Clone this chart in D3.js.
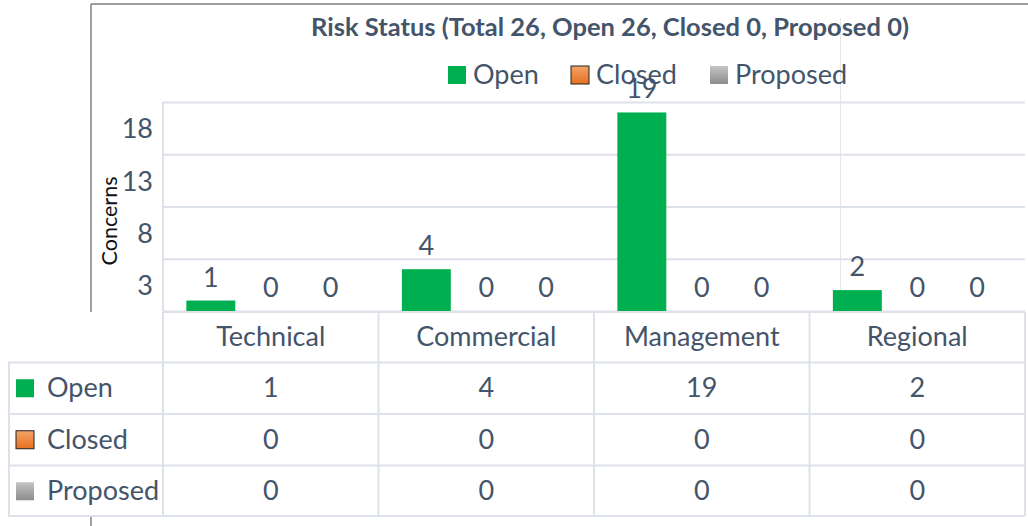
<!DOCTYPE html>
<html>
<head>
<meta charset="utf-8">
<script src="https://cdn.jsdelivr.net/npm/d3@7"></script>
<style>
  body { margin: 0; background: #fff; }
  text { font-family: Lato, "Open Sans", sans-serif; fill: #44546A; }
</style>
</head>
<body>
<script>
// chart data
var categories = ["Technical", "Commercial", "Management", "Regional"];
var seriesNames = ["Open", "Closed", "Proposed"];
var openValues = [1, 4, 19, 2];
var closedValues = [0, 0, 0, 0];
var proposedValues = [0, 0, 0, 0];
var gridValues = [0, 5, 10, 15, 20];
var tickValues = [2.5, 7.5, 12.5, 17.5];   // labels sit between gridlines
var tickLabels = ["3", "8", "13", "18"];

var seriesValues = [openValues, closedValues, proposedValues];

var width = 1028,
    height = 526;

var plot = {left: 163, right: 1025, top: 102, bottom: 311};
var fontSize = "27px";

var svg = d3.select("body")
    .append("svg")
    .attr("width", width)
    .attr("height", height);

// fills for the series
var defs = svg.append("defs");
var gOrange = defs.append("linearGradient").attr("id", "gOrange")
    .attr("x1", 0).attr("y1", 0).attr("x2", 0).attr("y2", 1);
gOrange.append("stop").attr("offset", "0%").attr("stop-color", "#F4A46A");
gOrange.append("stop").attr("offset", "100%").attr("stop-color", "#E8701F");
var gGray = defs.append("linearGradient").attr("id", "gGray")
    .attr("x1", 0).attr("y1", 0).attr("x2", 0).attr("y2", 1);
gGray.append("stop").attr("offset", "0%").attr("stop-color", "#C4C4C4");
gGray.append("stop").attr("offset", "100%").attr("stop-color", "#8C8C8C");

var fills = {Open: "#00B050", Closed: "url(#gOrange)", Proposed: "url(#gGray)"};
var strokes = {Open: "none", Closed: "#222", Proposed: "none"};

// scales
var x0 = d3.scaleBand()
    .domain(categories)
    .range([plot.left, plot.right]);

var x1 = d3.scaleBand()
    .domain(seriesNames)
    .range([0, x0.bandwidth()])
    .paddingInner(0.183)
    .paddingOuter(0.39);

var y = d3.scaleLinear()
    .domain([0, 20])
    .range([plot.bottom, plot.top]);

// outer frame (left and top)
svg.append("line")
    .attr("x1", 91).attr("x2", 91).attr("y1", 4).attr("y2", 526)
    .attr("stroke", "#808080").attr("stroke-width", 1.5);
svg.append("line")
    .attr("x1", 91).attr("x2", 1028).attr("y1", 4).attr("y2", 4)
    .attr("stroke", "#808080").attr("stroke-width", 1.5);

// faint stray vertical line
svg.append("line")
    .attr("x1", 840.5).attr("x2", 840.5).attr("y1", 18).attr("y2", 310)
    .attr("stroke", "#E4E6EA").attr("stroke-width", 1);

// gridlines
svg.append("g")
    .attr("transform", "translate(" + plot.left + ",0)")
    .call(d3.axisLeft(y).tickValues(gridValues).tickSize(-(plot.right - plot.left)).tickFormat(""))
    .call(function(g) { g.select(".domain").remove(); })
    .call(function(g) {
        g.selectAll("line").attr("stroke", "#DDE2EA").attr("stroke-width", 2);
    });

// plot left edge
svg.append("line")
    .attr("x1", plot.left).attr("x2", plot.left)
    .attr("y1", plot.top).attr("y2", plot.bottom)
    .attr("stroke", "#D4D8DE").attr("stroke-width", 1.5);

// y tick labels
svg.append("g")
    .attr("transform", "translate(" + (plot.left - 7) + ",0)")
    .call(d3.axisLeft(y).tickValues(tickValues).tickSize(0)
        .tickFormat(function(d, i) { return tickLabels[i]; }))
    .call(function(g) { g.select(".domain").remove(); })
    .call(function(g) {
        g.selectAll("text")
            .attr("font-size", fontSize)
            .attr("font-family", "Lato")
            .attr("fill", "#44546A")
            .attr("dy", "0.36em");
    });

// y axis title
svg.append("text")
    .attr("transform", "translate(117,221) rotate(-90)")
    .attr("text-anchor", "middle")
    .attr("font-size", "21.5px")
    .style("fill", "#111")
    .text("Concerns");

// bars
var groups = svg.selectAll(".cat")
    .data(categories)
    .enter()
    .append("g")
    .attr("class", "cat")
    .attr("transform", function(d) { return "translate(" + x0(d) + ",0)"; });

groups.selectAll("rect")
    .data(function(d, i) {
        return seriesNames.map(function(s, j) { return {s: s, v: seriesValues[j][i]}; });
    })
    .enter()
    .append("rect")
    .attr("x", function(d) { return x1(d.s); })
    .attr("width", x1.bandwidth())
    .attr("y", function(d) { return y(d.v); })
    .attr("height", function(d) { return y(0) - y(d.v); })
    .attr("fill", function(d) { return fills[d.s]; });

groups.selectAll(".lbl")
    .data(function(d, i) {
        return seriesNames.map(function(s, j) { return {s: s, v: seriesValues[j][i]}; });
    })
    .enter()
    .append("text")
    .attr("class", "lbl")
    .attr("x", function(d) { return x1(d.s) + x1.bandwidth() / 2; })
    .attr("y", function(d) { return y(d.v) - 14; })
    .attr("text-anchor", "middle")
    .attr("font-size", fontSize)
    .text(function(d) { return d.v; });

// title
svg.append("text")
    .attr("x", 610)
    .attr("y", 36)
    .attr("text-anchor", "middle")
    .attr("font-size", "25.5px")
    .attr("font-weight", "bold")
    .text("Risk Status (Total 26, Open 26, Closed 0, Proposed 0)");

// top legend
var legendX = [448, 571, 710];
var legend = svg.selectAll(".leg")
    .data(seriesNames)
    .enter()
    .append("g")
    .attr("class", "leg")
    .attr("transform", function(d, i) { return "translate(" + legendX[i] + ",66)"; });
legend.append("rect")
    .attr("width", 18).attr("height", 18)
    .attr("fill", function(d) { return fills[d]; })
    .attr("stroke", function(d) { return strokes[d]; })
    .attr("stroke-width", 1);
legend.append("text")
    .attr("x", 25).attr("y", 18)
    .attr("font-size", fontSize)
    .text(function(d) { return d; });

// data table
var rows = d3.scaleBand()
    .domain(["header"].concat(seriesNames))
    .range([311, 517]);

var table = svg.append("g");
// white backing hides the frame line behind the table
table.append("rect")
    .attr("x", 8).attr("y", 312)
    .attr("width", plot.right - 8).attr("height", 517 - 312)
    .attr("fill", "#fff");

var lineColor = "#DDE2EA";
// horizontal lines
table.append("line")
    .attr("x1", plot.left).attr("x2", plot.right)
    .attr("y1", 312).attr("y2", 312)
    .attr("stroke", lineColor).attr("stroke-width", 2);
seriesNames.forEach(function(s) {
    table.append("line")
        .attr("x1", 8).attr("x2", plot.right)
        .attr("y1", rows(s)).attr("y2", rows(s))
        .attr("stroke", lineColor).attr("stroke-width", 2);
});
table.append("line")
    .attr("x1", 8).attr("x2", plot.right)
    .attr("y1", 516).attr("y2", 516)
    .attr("stroke", lineColor).attr("stroke-width", 2);
// vertical lines
table.append("line")
    .attr("x1", 9).attr("x2", 9)
    .attr("y1", rows("Open")).attr("y2", 516)
    .attr("stroke", lineColor).attr("stroke-width", 2);
categories.forEach(function(c) {
    table.append("line")
        .attr("x1", x0(c)).attr("x2", x0(c))
        .attr("y1", 312).attr("y2", 516)
        .attr("stroke", lineColor).attr("stroke-width", 2);
});
table.append("line")
    .attr("x1", plot.right).attr("x2", plot.right)
    .attr("y1", 312).attr("y2", 516)
    .attr("stroke", lineColor).attr("stroke-width", 2);

// header labels
table.selectAll(".hdr")
    .data(categories)
    .enter()
    .append("text")
    .attr("x", function(d) { return x0(d) + x0.bandwidth() / 2; })
    .attr("y", rows("header") + rows.bandwidth() / 2 + 9)
    .attr("text-anchor", "middle")
    .attr("font-size", fontSize)
    .text(function(d) { return d; });

// row keys
seriesNames.forEach(function(s, j) {
    var cy = rows(s) + rows.bandwidth() / 2;
    table.append("rect")
        .attr("x", 16).attr("y", cy - 9)
        .attr("width", 18).attr("height", 18)
        .attr("fill", fills[s])
        .attr("stroke", strokes[s]).attr("stroke-width", 1);
    table.append("text")
        .attr("x", 47).attr("y", cy + 9)
        .attr("font-size", fontSize)
        .text(s);
    table.selectAll(".v" + j)
        .data(seriesValues[j])
        .enter()
        .append("text")
        .attr("x", function(d, i) { return x0(categories[i]) + x0.bandwidth() / 2; })
        .attr("y", cy + 9)
        .attr("text-anchor", "middle")
        .attr("font-size", fontSize)
        .text(function(d) { return d; });
});
</script>
</body>
</html>
